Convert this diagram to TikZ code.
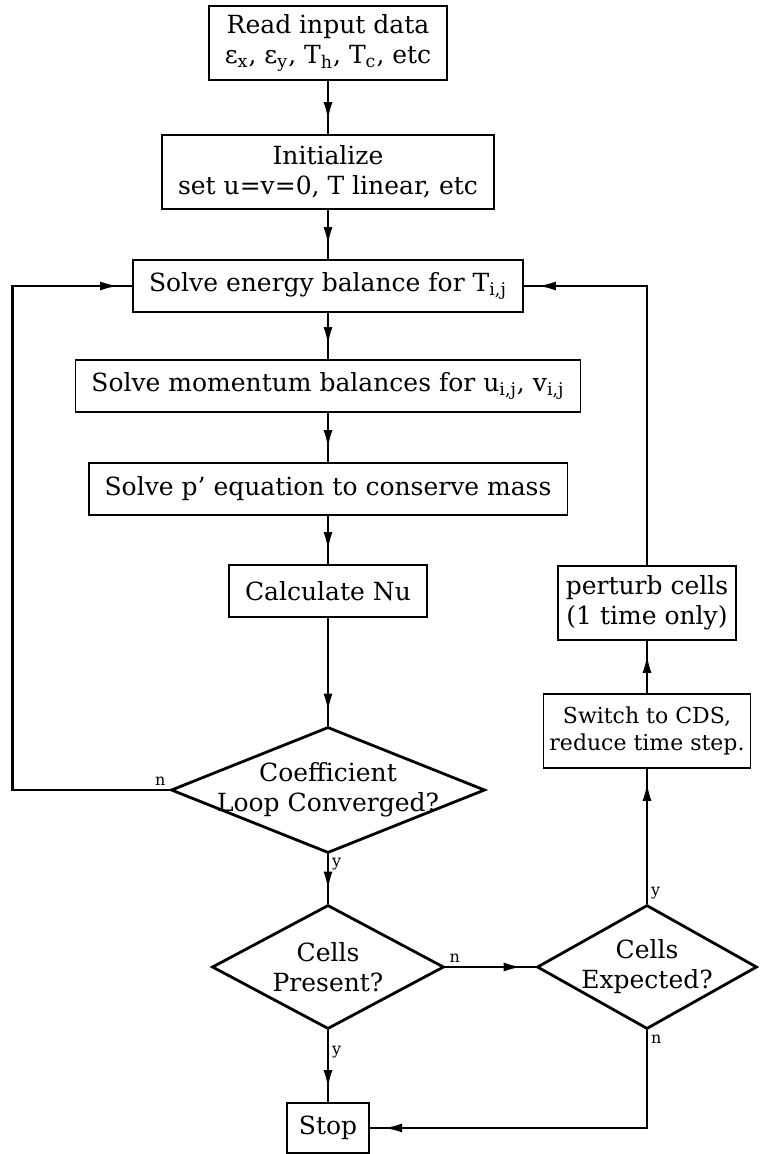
\documentclass[tikz,border=0pt]{standalone}
\usepackage{fontspec}
\setmainfont{DejaVu Serif}
\usetikzlibrary{shapes.geometric, arrows.meta, positioning, decorations.markings}

\begin{document}
\begin{tikzpicture}[font=\fontsize{12.5}{15}\selectfont]
    \tikzstyle{process} = [rectangle, draw, line width=0.9pt, inner xsep=8pt, minimum height=26pt, align=center]
    \tikzstyle{decision} = [diamond, draw, line width=1.4pt, aspect=2.5, inner sep=-8pt, align=center]
    \tikzstyle{arrow} = [line width=1.2pt, postaction={decorate}, decoration={markings, mark=at position -7pt with {\arrow{Latex[length=9pt,width=4.5pt]}}}]
    \tikzstyle{yn} = [font=\fontsize{8}{9}\selectfont, inner sep=1.5pt]
    \useasboundingbox (0,0) rectangle (379.5pt,-577pt);
    \node (read) [process, minimum height=37pt] at (164pt,-21.5pt) {Read input data\\ε\textsubscript{x}, ε\textsubscript{y}, T\textsubscript{h}, T\textsubscript{c}, etc};
    \node (init) [process, minimum height=37pt, below of=read, node distance=64.5pt] {Initialize\\set u=v=0, T linear, etc};
    \node (energy) [process, below of=init, node distance=57pt] {Solve energy balance for T\textsubscript{i,j}};
    \node (momentum) [process, below of=energy, node distance=50pt] {Solve momentum balances for u\textsubscript{i,j}, v\textsubscript{i,j}};
    \node (pprime) [process, below of=momentum, node distance=51.5pt] {Solve p' equation to conserve mass};
    \node (nu) [process, below of=pprime, node distance=51pt] {Calculate Nu};
    \node (coef) [decision, minimum width=157pt, minimum height=63pt, below of=nu, node distance=99.5pt] {Coefficient\\Loop Converged?};
    \node (present) [decision, minimum width=116pt, minimum height=62pt, below of=coef, node distance=88.5pt] {Cells\\Present?};
    \node (stop) [process, minimum height=25pt, inner xsep=6pt, below of=present, node distance=80.5pt] {Stop};
    \node (expected) [decision, minimum width=110pt, minimum height=62pt, right of=present, node distance=159.5pt] {Cells\\Expected?};
    \node (switch) [process, minimum height=37pt, inner xsep=3pt, font=\fontsize{11}{13.5}\selectfont, above of=expected, node distance=118pt] {Switch to CDS,\\reduce time step.};
    \node (perturb) [process, minimum height=37pt, inner xsep=4pt, above of=switch, node distance=64pt] {perturb cells\\(1 time only)};
    \draw [arrow] (read) -- (init);
    \draw [arrow] (init) -- (energy);
    \draw [arrow] (energy) -- (momentum);
    \draw [arrow] (momentum) -- (pprime);
    \draw [arrow] (pprime) -- (nu);
    \draw [arrow] (nu) -- (coef);
    \draw [arrow] (coef.west) node[yn, anchor=south east] {n} -- ++(-78.5pt,0) |- (energy.west);
    \draw [arrow] (coef.south) node[yn, anchor=north west] {y} -- (present.north);
    \draw [arrow] (present.south) node[yn, anchor=north west, yshift=-6pt] {y} -- (stop.north);
    \draw [arrow] (present.east) node[yn, anchor=south west] {n} -- (expected.west);
    \draw [arrow] (expected.north) node[yn, anchor=south west] {y} -- (switch.south);
    \draw [arrow] (expected.south) node[yn, anchor=north west] {n} |- (stop.east);
    \draw [arrow] (switch) -- (perturb);
    \draw [arrow] (perturb.north) |- (energy.east);
\end{tikzpicture}
\end{document}
